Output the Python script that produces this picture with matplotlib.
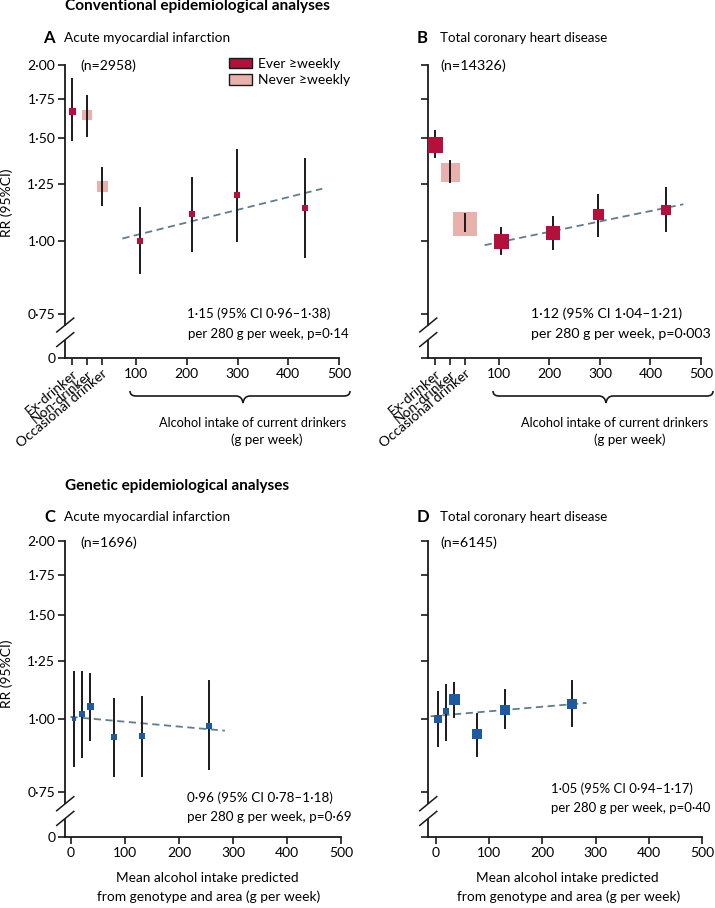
import matplotlib
matplotlib.use('Agg')
import matplotlib.pyplot as plt
from matplotlib.patches import Patch, PathPatch
from matplotlib.path import Path

plt.rcParams['font.family'] = ['Lato', 'DejaVu Sans']
plt.rcParams['font.size'] = 10

W, H = 715, 908
RED = '#b3103b'
PINK = '#e8b1ab'
BLUE = '#1d5aa0'
FIT = '#5e7d8d'
INK = '#1a1a1a'
ZERO = 0.63  # where the "0" tick sits on the log axis

# ---- A: acute myocardial infarction, conventional ----
cat_labels = ['Ex-drinker', 'Non-drinker', 'Occasional drinker']
cat_group = ['ever', 'never', 'never']
a_cat_rr = [1.67, 1.64, 1.24]
a_cat_lo = [1.49, 1.51, 1.15]
a_cat_hi = [1.89, 1.77, 1.33]
a_x = [108, 210, 298, 433]
a_rr = [1.00, 1.11, 1.20, 1.14]
a_lo = [0.88, 0.96, 1.00, 0.94]
a_hi = [1.14, 1.28, 1.43, 1.38]
a_fit_x = [73, 467]
a_fit_rr = [1.009, 1.228]

# ---- B: total coronary heart disease, conventional ----
b_cat_rr = [1.46, 1.31, 1.07]
b_cat_lo = [1.39, 1.26, 1.04]
b_cat_hi = [1.54, 1.37, 1.11]
b_x = [105, 207, 296, 431]
b_rr = [1.00, 1.03, 1.11, 1.13]
b_lo = [0.95, 0.97, 1.02, 1.04]
b_hi = [1.05, 1.10, 1.20, 1.23]
b_fit_x = [72, 465]
b_fit_rr = [0.983, 1.155]

# ---- C: acute myocardial infarction, genetic ----
c_x = [6, 20, 35, 80, 132, 256]
c_rr = [1.00, 1.02, 1.05, 0.93, 0.935, 0.97]
c_lo = [0.83, 0.86, 0.92, 0.80, 0.80, 0.82]
c_hi = [1.20, 1.20, 1.19, 1.08, 1.09, 1.16]
c_fit_x = [-1, 285]
c_fit_rr = [1.007, 0.954]

# ---- D: total coronary heart disease, genetic ----
d_x = [3, 18, 33, 77, 130, 255]
d_rr = [1.00, 1.03, 1.08, 0.94, 1.036, 1.06]
d_lo = [0.90, 0.92, 1.007, 0.865, 0.965, 0.97]
d_hi = [1.11, 1.14, 1.15, 1.02, 1.12, 1.16]
d_fit_x = [-10, 283]
d_fit_rr = [1.009, 1.063]

yticks = [ZERO, 0.75, 1.00, 1.25, 1.50, 1.75, 2.00]
ytick_labels = ['0', '0·75', '1·00', '1·25', '1·50', '1·75', '2·00']

# marker sizes in pixels
a_cat_px = [7, 10, 11]
a_px = [6.5, 6, 5.5, 5.5]
b_cat_px = [16, 19, 24]
b_px = [15, 14, 11, 10]
c_px = [5, 5.5, 7, 6, 6, 5.5]
d_px = [7.5, 6.7, 11, 9.3, 10.5, 10]

fig = plt.figure(figsize=(W / 100, H / 100), dpi=100)
fitted = []


def fx(x):
    return x / W


def fy(y):
    return 1 - y / H


def make_axes(left, top, right, bottom):
    return fig.add_axes([fx(left), fy(bottom), (right - left) / W, (bottom - top) / H])


def style_axes(ax, xlim, show_ylabels):
    ax.set_yscale('log')
    ax.set_ylim(ZERO, 2.0)
    ax.set_xlim(*xlim)
    ax.minorticks_off()
    ax.set_yticks(yticks)
    ax.set_yticklabels(ytick_labels if show_ylabels else [])
    for side in ['top', 'right']:
        ax.spines[side].set_visible(False)
    for side in ['left', 'bottom']:
        ax.spines[side].set_linewidth(1.3)
        ax.spines[side].set_color(INK)
    ax.tick_params(direction='out', length=5, width=1.2, color=INK,
                   labelsize=10, pad=2)
    ax.patch.set_alpha(0)
    # axis break between 0.75 and 0
    tr = ax.get_yaxis_transform()
    ax.plot([0, 0], [0.676, 0.716], transform=tr, color='white', lw=3,
            clip_on=False, zorder=5, solid_capstyle='butt')
    for y0 in [0.676, 0.716]:
        ax.plot([-0.03, 0.032], [y0 * 0.975, y0 * 1.03], transform=tr,
                color=INK, lw=1.1, clip_on=False, zorder=6)


def draw_points(ax, xs, rr, lo, hi, sizes, color, fit_x, fit_rr):
    ax.plot(fit_x, fit_rr, ls=(0, (4, 2.5)), color=FIT, lw=1.3, zorder=2)
    for x, r, l, h, s in zip(xs, rr, lo, hi, sizes):
        ax.plot([x, x], [l, h], color=INK, lw=1.4, zorder=3)
        ax.plot([x], [r], marker='s', ms=s * 0.72, color=color, mew=0,
                zorder=4, ls='none')


def draw_categories(ax, rr, lo, hi, sizes):
    cat_x = [-26, 4, 33]
    for x, r, l, h, s, g in zip(cat_x, rr, lo, hi, sizes, cat_group):
        col = RED if g == 'ever' else PINK
        ax.plot([x, x], [l, h], color=INK, lw=1.4, zorder=3)
        ax.plot([x], [r], marker='s', ms=s * 0.72, color=col, mew=0,
                zorder=4 if g == 'ever' else 2, ls='none')
    ticks = cat_x + [100, 200, 300, 400, 500]
    ax.set_xticks(ticks)
    ax.set_xticklabels(cat_labels + ['100', '200', '300', '400', '500'])
    for lab in ax.get_xticklabels()[:3]:
        lab.set_rotation(40)
        lab.set_ha('right')
        lab.set_va('top')
        lab.set_rotation_mode('anchor')


def brace(x0, x1, xc, y_top=391, y_mid=396, y_tip=403):
    pts = [(x0, y_top), (x0, y_mid), (x0 + 6, y_mid), (xc - 7, y_mid),
           (xc - 1, y_mid), (xc, y_tip), (xc + 1, y_mid), (xc + 7, y_mid),
           (x1 - 6, y_mid), (x1, y_mid), (x1, y_top)]
    codes = [Path.MOVETO, Path.CURVE3, Path.CURVE3, Path.LINETO,
             Path.CURVE3, Path.CURVE3, Path.CURVE3, Path.CURVE3,
             Path.LINETO, Path.CURVE3, Path.CURVE3]
    path = Path([(fx(x), fy(y)) for x, y in pts], codes)
    fig.patches.append(PathPatch(path, transform=fig.transFigure,
                                 fill=False, lw=1.2, color=INK))


def text(x, y, s, **kw):
    kw.setdefault('va', 'center')
    return fig.text(fx(x), fy(y), s, **kw)


def ftext(x0, x1, y, s, lo=9.2, hi=10.6, **kw):
    # text centred on x0..x1 pixels; size nudged towards that width later
    t = text((x0 + x1) / 2, y, s, ha='center', **kw)
    fitted.append((t, x1 - x0, lo, hi))


# ---------- panels ----------
axA = make_axes(65, 65, 339, 358)
style_axes(axA, (-40, 500), True)
draw_categories(axA, a_cat_rr, a_cat_lo, a_cat_hi, a_cat_px)
draw_points(axA, a_x, a_rr, a_lo, a_hi, a_px, RED, a_fit_x, a_fit_rr)
axA.set_ylabel('RR (95%CI)', fontsize=10)
axA.yaxis.set_label_coords(-0.19, 0.53)
axA.legend(handles=[Patch(facecolor=RED, edgecolor=INK, lw=1, label='Ever ≥weekly'),
                    Patch(facecolor=PINK, edgecolor=INK, lw=1, label='Never ≥weekly')],
           loc='upper left', bbox_to_anchor=(0.6, 1.025), frameon=False,
           handlelength=1.6, handleheight=0.8, handletextpad=0.45,
           borderpad=0, borderaxespad=0, labelspacing=0.3, fontsize=10)

axB = make_axes(428, 65, 701, 358)
style_axes(axB, (-40, 500), False)
draw_categories(axB, b_cat_rr, b_cat_lo, b_cat_hi, b_cat_px)
draw_points(axB, b_x, b_rr, b_lo, b_hi, b_px, RED, b_fit_x, b_fit_rr)

axC = make_axes(65, 541, 341, 837)
style_axes(axC, (-11, 500), True)
axC.set_xticks([0, 100, 200, 300, 400, 500])
draw_points(axC, c_x, c_rr, c_lo, c_hi, c_px, BLUE, c_fit_x, c_fit_rr)
axC.set_ylabel('RR (95%CI)', fontsize=10)
axC.yaxis.set_label_coords(-0.19, 0.55)

axD = make_axes(428, 541, 702, 837)
style_axes(axD, (-15, 500), False)
axD.set_xticks([0, 100, 200, 300, 400, 500])
draw_points(axD, d_x, d_rr, d_lo, d_hi, d_px, BLUE, d_fit_x, d_fit_rr)

# ---------- headings and notes ----------
ftext(65, 330, 6, 'Conventional epidemiological analyses', lo=10, hi=11.5,
      fontweight='bold')
ftext(65, 289, 486, 'Genetic epidemiological analyses', lo=10, hi=11.5,
      fontweight='bold')

for lx, x0, x1, y, letter, title in [(43, 65, 230, 38, 'A', 'Acute myocardial infarction'),
                                     (417, 440, 608, 38, 'B', 'Total coronary heart disease'),
                                     (44, 65, 230, 517, 'C', 'Acute myocardial infarction'),
                                     (417, 440, 608, 517, 'D', 'Total coronary heart disease')]:
    text(lx, y, letter, fontsize=12, fontweight='bold')
    ftext(x0, x1, y, title)

ftext(80, 136, 66, '(n=2958)')
ftext(440, 506, 66, '(n=14326)')
ftext(80, 137, 543, '(n=1696)')
ftext(440, 497, 543, '(n=6145)')

ftext(187, 330, 314, '1·15 (95% CI 0·96–1·38)')
ftext(187, 349, 334, 'per 280 g per week, p=0·14')
ftext(531, 682, 314, '1·12 (95% CI 1·04–1·21)')
ftext(531, 711, 334, 'per 280 g per week, p=0·003')
ftext(187, 332, 798, '0·96 (95% CI 0·78–1·18)')
ftext(187, 351, 817, 'per 280 g per week, p=0·69')
ftext(551, 693, 789, '1·05 (95% CI 0·94–1·17)')
ftext(551, 711, 808, 'per 280 g per week, p=0·40')

brace(130, 350, 243)
brace(493, 713, 606)
ftext(168, 338, 423, 'Alcohol intake of current drinkers')
ftext(231, 303, 440, '(g per week)')
ftext(528, 702, 423, 'Alcohol intake of current drinkers')
ftext(594, 666, 440, '(g per week)')

ftext(117, 298, 878, 'Mean alcohol intake predicted')
ftext(98, 320, 897, 'from genotype and area (g per week)')
ftext(477, 658, 878, 'Mean alcohol intake predicted')
ftext(458, 680, 897, 'from genotype and area (g per week)')

renderer = fig.canvas.get_renderer()
for t, width, lo, hi in fitted:
    cur = t.get_window_extent(renderer).width
    size = t.get_fontsize() * width / cur
    t.set_fontsize(min(max(size, lo), hi))

fig.savefig('out.png', dpi=100)
